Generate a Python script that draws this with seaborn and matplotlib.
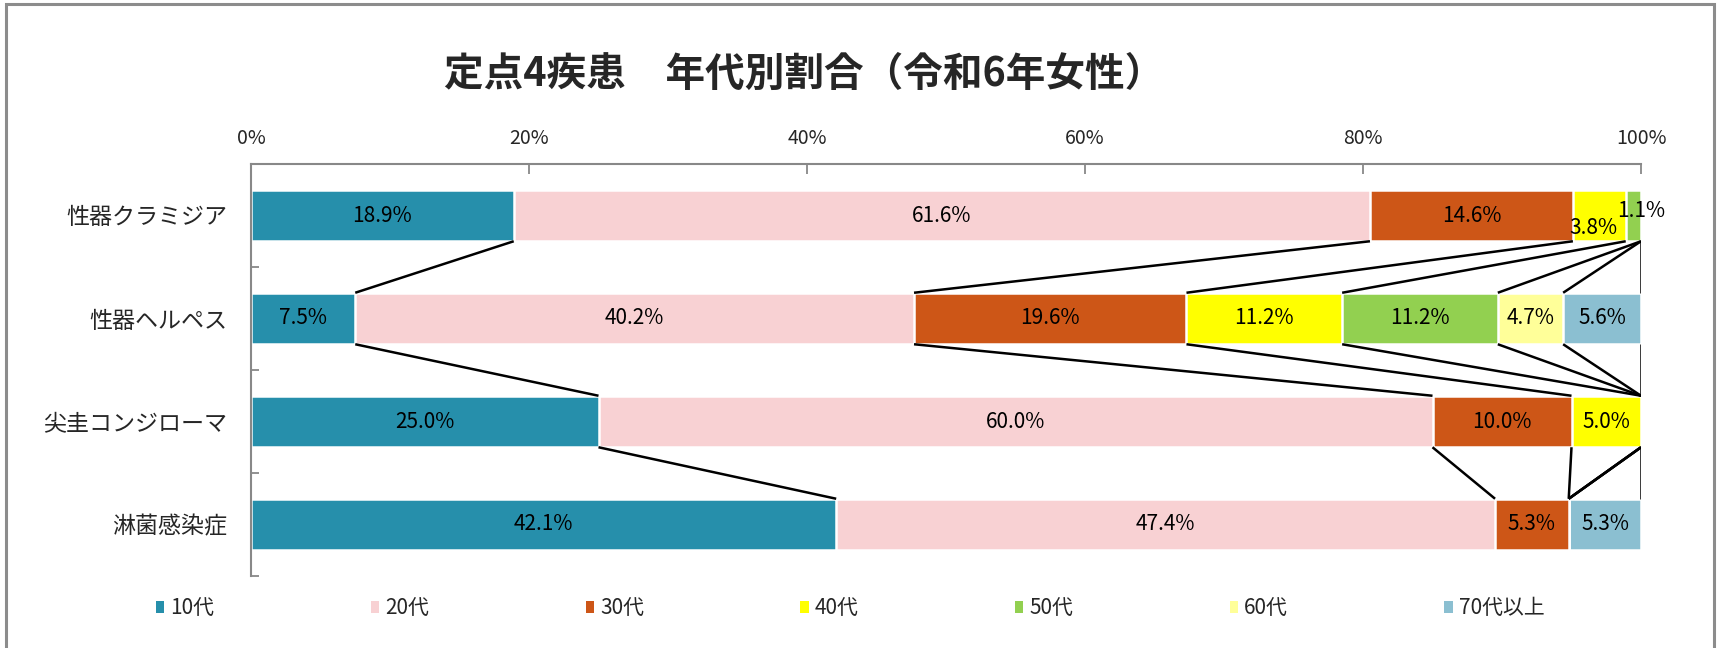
import numpy as np
import pandas as pd
import seaborn as sns
import matplotlib.pyplot as plt
from matplotlib.patches import Patch, Rectangle

# ---- data ----
categories = ["性器クラミジア", "性器ヘルペス", "尖圭コンジローマ", "淋菌感染症"]
age_groups = ["10代", "20代", "30代", "40代", "50代", "60代", "70代以上"]
teens = [18.9, 7.5, 25.0, 42.1]
twenties = [61.6, 40.2, 60.0, 47.4]
thirties = [14.6, 19.6, 10.0, 5.3]
forties = [3.8, 11.2, 5.0, 0.0]
fifties = [1.1, 11.2, 0.0, 0.0]
sixties = [0.0, 4.7, 0.0, 0.0]
seventies_plus = [0.0, 5.6, 0.0, 5.3]
xtick_values = [0, 20, 40, 60, 80, 100]
xtick_labels = ["0%", "20%", "40%", "60%", "80%", "100%"]
title = "定点4疾患　年代別割合（令和6年女性）"

colors = ["#268FAB", "#F8D1D3", "#CD5617", "#FFFF00", "#92D050", "#FFFF99", "#8BBFD1"]

series = [teens, twenties, thirties, forties, fifties, sixties, seventies_plus]
vals = np.array(series).T  # rows = categories, cols = age groups
cum = np.minimum(np.cumsum(vals, axis=1), 100.0)

sns.set_theme(style="white")
plt.rcParams['font.family'] = ['Noto Sans CJK JP', 'DejaVu Sans']

fig = plt.figure(figsize=(17.19, 6.48), dpi=100)
ax = fig.add_axes([251/1719, 1-576/648, (1641-251)/1719, (576-164)/648])

bar_h = 0.5
# stacked bars: draw cumulative totals from the last series to the first
for k in range(len(age_groups)-1, -1, -1):
    df = pd.DataFrame({"cat": categories, "val": cum[:, k]})
    sns.barplot(data=df, x="val", y="cat", orient="h", color=colors[k],
                width=bar_h, edgecolor="white", linewidth=1.8, saturation=1, ax=ax)

# series lines between consecutive bars
n = len(categories)
for i in range(n-1):
    for k in range(len(age_groups)):
        ax.plot([cum[i, k], cum[i+1, k]], [i + bar_h/2, i + 1 - bar_h/2],
                color="black", lw=1.8, solid_capstyle="butt", zorder=3)

# data labels
special = {(0, 3): (-0.4, 0.12), (0, 4): (0.55, -0.04)}
for i in range(n):
    start = 0.0
    for k in range(len(age_groups)):
        v = vals[i, k]
        if v > 0:
            x = start + v/2
            y = i
            if (i, k) in special:
                dx, dy = special[(i, k)]
                x += dx
                y += dy
            ax.text(x, y, f"{v:.1f}%", ha="center", va="center", fontsize=15,
                    color="black", zorder=4)
        start += v

ax.set_xlim(0, 100)
ax.set_ylim(n - 0.5, -0.5)
ax.set_xlabel("")
ax.set_ylabel("")

ax.xaxis.tick_top()
ax.set_xticks(xtick_values)
ax.set_xticklabels(xtick_labels, fontsize=14)
ax.tick_params(axis="x", which="major", direction="in", length=7, width=1.3,
               color="#888888", pad=11, top=True, bottom=False)

ax.set_yticks(range(n))
ax.set_yticklabels(categories, fontsize=16.6)
ax.set_yticks(np.arange(-0.5, n, 1.0), minor=True)
ax.tick_params(axis="y", which="major", length=0, pad=17, left=False)
ax.tick_params(axis="y", which="minor", direction="in", length=6, width=1.3,
               color="#888888", left=True)

for s in ["right", "bottom"]:
    ax.spines[s].set_visible(False)
for s in ["left", "top"]:
    ax.spines[s].set_visible(True)
    ax.spines[s].set_color("#888888")
    ax.spines[s].set_linewidth(1.5)
ax.grid(False)

# title
fig.text(804/1719, 1-74/648, title, ha="center", va="center",
         fontsize=28.5, fontweight="bold")

# legend
handles = [Patch(facecolor=c, edgecolor="none") for c in colors]
fig.legend(handles, age_groups, loc="center left",
           bbox_to_anchor=(156/1719, 1-608/648), ncol=7, frameon=False,
           fontsize=15, handlelength=0.4, handleheight=0.5, handletextpad=0.3,
           columnspacing=7.5, borderpad=0, borderaxespad=0)

# outer frame
fig.patches.append(Rectangle((6/1719, -0.05), (1714-6)/1719, 1.05 - 4/648,
                             transform=fig.transFigure, fill=False,
                             edgecolor="#8C8C8C", linewidth=2.2))

fig.savefig("out.png", dpi=100)
